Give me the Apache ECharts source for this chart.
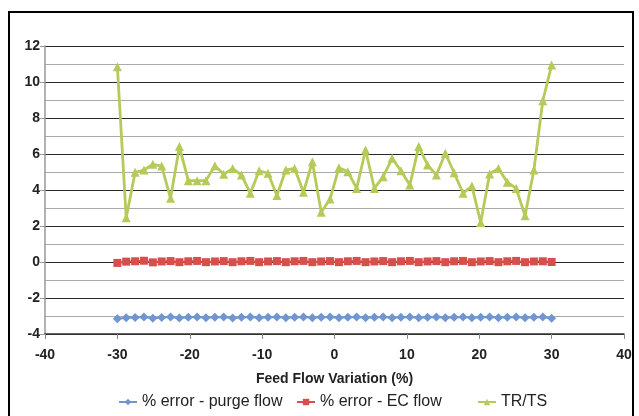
<!DOCTYPE html>
<html>
<head>
<meta charset="utf-8">
<script src="https://cdn.jsdelivr.net/npm/echarts@6/dist/echarts.min.js"></script>
<style>
  html, body { margin: 0; padding: 0; background: #fff; }
  #chart-container { width: 639px; height: 416px; }
</style>
</head>
<body>
<div id="chart-container"></div>
<script>
// feed flow variation (%), 50 samples from -30 to 30
const feedFlow = [
  -30.00, -28.78, -27.55, -26.33, -25.10, -23.88, -22.65, -21.43, -20.20, -18.98,
  -17.76, -16.53, -15.31, -14.08, -12.86, -11.63, -10.41, -9.18, -7.96, -6.73,
  -5.51, -4.29, -3.06, -1.84, -0.61, 0.61, 1.84, 3.06, 4.29, 5.51,
  6.73, 7.96, 9.18, 10.41, 11.63, 12.86, 14.08, 15.31, 16.53, 17.76,
  18.98, 20.20, 21.43, 22.65, 23.88, 25.10, 26.33, 27.55, 28.78, 30.00
];
const purgeError = [
  -3.15, -3.10, -3.08, -3.06, -3.12, -3.08, -3.05, -3.11, -3.07, -3.05,
  -3.10, -3.07, -3.06, -3.11, -3.07, -3.05, -3.10, -3.07, -3.06, -3.10,
  -3.07, -3.05, -3.10, -3.07, -3.06, -3.10, -3.07, -3.05, -3.10, -3.07,
  -3.06, -3.10, -3.07, -3.05, -3.10, -3.07, -3.06, -3.10, -3.07, -3.05,
  -3.10, -3.07, -3.06, -3.10, -3.07, -3.05, -3.10, -3.07, -3.06, -3.12
];
const ecError = [
  -0.05, 0.02, 0.04, 0.07, -0.02, 0.03, 0.05, -0.01, 0.04, 0.06,
  -0.01, 0.03, 0.05, -0.01, 0.04, 0.06, -0.01, 0.03, 0.05, -0.01,
  0.04, 0.06, -0.01, 0.03, 0.05, -0.01, 0.04, 0.06, -0.01, 0.03,
  0.05, -0.01, 0.04, 0.06, -0.01, 0.03, 0.05, -0.01, 0.04, 0.06,
  -0.01, 0.03, 0.05, -0.01, 0.04, 0.06, -0.01, 0.03, 0.04, 0.00
];
const trts = [
  10.85, 2.46, 4.98, 5.11, 5.43, 5.33, 3.54, 6.41, 4.52, 4.52,
  4.52, 5.35, 4.87, 5.20, 4.83, 3.82, 5.07, 4.93, 3.69, 5.11,
  5.20, 3.87, 5.57, 2.76, 3.50, 5.24, 5.02, 4.09, 6.22, 4.09,
  4.74, 5.76, 5.07, 4.28, 6.41, 5.39, 4.83, 6.04, 4.96, 3.82,
  4.22, 2.20, 4.89, 5.20, 4.43, 4.09, 2.57, 5.11, 8.96, 10.94
];
const seriesNames = ["% error - purge flow", "% error - EC flow", "TR/TS"];

const pairs = (ys) => feedFlow.map((x, i) => [x, ys[i]]);

let element = document.getElementById("chart-container");
let myChart = echarts.init(element, null, { renderer: "canvas" });

const font = "'Liberation Sans', Arial, sans-serif";
const legendText = { color: "#222", fontSize: 16, fontFamily: font };
const legendBase = { top: 394, itemWidth: 18, itemHeight: 8, itemGap: 2, textStyle: legendText, padding: 0 };

let option = {
  backgroundColor: "#fff",
  animation: false,
  textStyle: { fontFamily: font },
  graphic: [
    {
      type: "rect",
      shape: { x: 9, y: 12, width: 624, height: 420 },
      style: { fill: "none", stroke: "#000", lineWidth: 2 },
      silent: true
    }
  ],
  grid: { left: 45, right: 15, top: 46, bottom: 82, containLabel: false },
  legend: [
    Object.assign({ data: [seriesNames[0]], left: 118 }, legendBase),
    Object.assign({ data: [seriesNames[1]], left: 296 }, legendBase),
    Object.assign({ data: [seriesNames[2]], left: 477 }, legendBase)
  ],
  xAxis: {
    type: "value",
    min: -40,
    max: 40,
    interval: 10,
    name: "Feed Flow Variation (%)",
    nameLocation: "middle",
    nameGap: 38,
    nameTextStyle: { fontSize: 14, fontWeight: "bold", color: "#222", fontFamily: font },
    axisLine: { onZero: false, lineStyle: { color: "#333", width: 1.5 } },
    axisTick: { show: true, length: 5, lineStyle: { color: "#888" } },
    axisLabel: { fontSize: 14, fontWeight: "bold", color: "#222", margin: 14, fontFamily: font },
    splitLine: { show: false }
  },
  yAxis: {
    type: "value",
    min: -4,
    max: 12,
    interval: 2,
    axisLine: { show: true, onZero: false, lineStyle: { color: "#999", width: 1.5 } },
    axisTick: { show: true, length: 5, lineStyle: { color: "#999" } },
    axisLabel: { fontSize: 14, fontWeight: "bold", color: "#222", margin: 5, fontFamily: font },
    splitLine: { show: true, lineStyle: { color: "#2a2a2a", width: 1.2 } },
    minorTick: { show: false, splitNumber: 2 },
    minorSplitLine: { show: true, lineStyle: { color: "#aaa", width: 1.2 } }
  },
  series: [
    {
      name: seriesNames[0],
      type: "line",
      data: pairs(purgeError),
      symbol: "diamond",
      symbolSize: 9,
      color: "#6f96d2",
      lineStyle: { width: 2 },
      z: 3
    },
    {
      name: seriesNames[1],
      type: "line",
      data: pairs(ecError),
      symbol: "rect",
      symbolSize: 8,
      color: "#d64f4c",
      lineStyle: { width: 2 },
      z: 3
    },
    {
      name: seriesNames[2],
      type: "line",
      data: pairs(trts),
      symbol: "triangle",
      symbolSize: 9,
      color: "#b4cb5a",
      lineStyle: { width: 2.8 },
      z: 4
    }
  ]
};
option && myChart.setOption(option);
</script>
</body>
</html>
